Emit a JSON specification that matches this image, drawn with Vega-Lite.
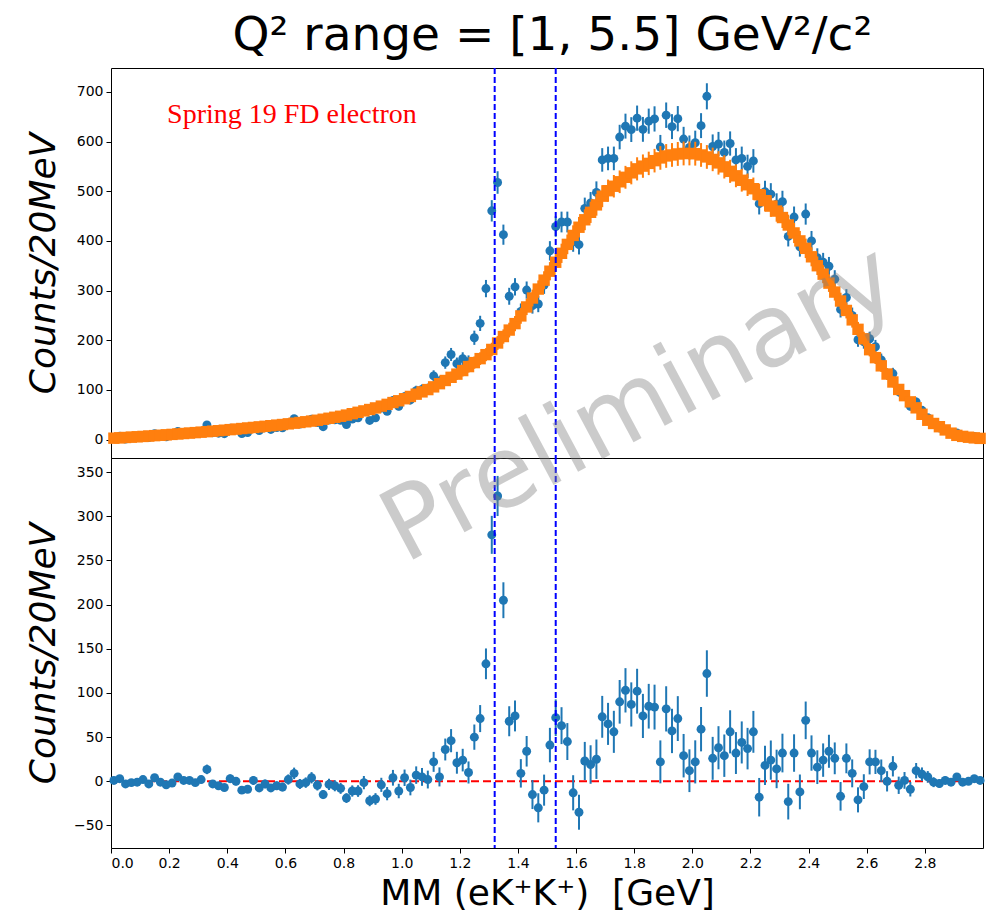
{
"$schema": "https://vega.github.io/schema/vega-lite/v6.json",
"background": "white",
"padding": {"left": 24, "top": 11, "right": 9, "bottom": 2},
"title": {"text": "Q² range = [1, 5.5] GeV²/c²", "fontSize": 47, "font": "DejaVu Sans", "fontWeight": "normal", "color": "black", "anchor": "middle", "offset": 7, "dx": 47},
"spacing": 0,
"bounds": "flush",
"data": {"values": [
{"x":0.01,"f":2.9,"fe":1.7,"d":3.9,"de":2.0,"r":1},
{"x":0.03,"f":3.6,"fe":1.9,"d":6.6,"de":2.6,"r":3},
{"x":0.05,"f":4.3,"fe":2.1,"d":1.3,"de":1.1,"r":-3},
{"x":0.07,"f":5.0,"fe":2.2,"d":3.5,"de":1.9,"r":-1.5},
{"x":0.09,"f":5.7,"fe":2.4,"d":4.7,"de":2.2,"r":-1},
{"x":0.11,"f":6.4,"fe":2.5,"d":8.4,"de":2.9,"r":2},
{"x":0.13,"f":7.2,"fe":2.7,"d":4.2,"de":2.0,"r":-3},
{"x":0.15,"f":8.0,"fe":2.8,"d":12,"de":3.5,"r":4},
{"x":0.17,"f":8.8,"fe":3.0,"d":7.8,"de":2.8,"r":-1},
{"x":0.19,"f":9.6,"fe":3.1,"d":5.6,"de":2.4,"r":-4},
{"x":0.21,"f":10.5,"fe":3.2,"d":8.5,"de":2.9,"r":-2},
{"x":0.23,"f":11.4,"fe":3.4,"d":16.4,"de":4.0,"r":5},
{"x":0.25,"f":12.3,"fe":3.5,"d":13.3,"de":3.6,"r":1},
{"x":0.27,"f":13.2,"fe":3.6,"d":14.2,"de":3.8,"r":1},
{"x":0.29,"f":14.1,"fe":3.8,"d":12.6,"de":3.5,"r":-1.5},
{"x":0.31,"f":15,"fe":3.9,"d":17,"de":4.1,"r":2},
{"x":0.33,"f":16,"fe":4.0,"d":29.5,"de":5.4,"r":13.5},
{"x":0.35,"f":17,"fe":4.1,"d":14,"de":3.7,"r":-3},
{"x":0.37,"f":18,"fe":4.2,"d":13,"de":3.6,"r":-5},
{"x":0.39,"f":19,"fe":4.4,"d":12,"de":3.5,"r":-7},
{"x":0.41,"f":20.1,"fe":4.5,"d":23.1,"de":4.8,"r":3},
{"x":0.43,"f":21.2,"fe":4.6,"d":21.2,"de":4.6,"r":0},
{"x":0.45,"f":22.3,"fe":4.7,"d":12.3,"de":3.5,"r":-10},
{"x":0.47,"f":23.4,"fe":4.8,"d":14.4,"de":3.8,"r":-9},
{"x":0.49,"f":24.5,"fe":4.9,"d":25.5,"de":5.0,"r":1},
{"x":0.51,"f":25.6,"fe":5.1,"d":18.1,"de":4.3,"r":-7.5},
{"x":0.53,"f":26.8,"fe":5.2,"d":23.8,"de":4.9,"r":-3},
{"x":0.55,"f":28,"fe":5.3,"d":20.5,"de":4.5,"r":-7.5},
{"x":0.57,"f":29.2,"fe":5.4,"d":24.2,"de":4.9,"r":-5},
{"x":0.59,"f":30.4,"fe":5.5,"d":23.9,"de":4.9,"r":-6.5},
{"x":0.61,"f":31.7,"fe":5.6,"d":33.7,"de":5.8,"r":2},
{"x":0.63,"f":33.1,"fe":5.8,"d":42.1,"de":6.5,"r":9},
{"x":0.65,"f":34.5,"fe":5.9,"d":31.5,"de":5.6,"r":-3},
{"x":0.67,"f":35.9,"fe":6.0,"d":34.4,"de":5.9,"r":-1.5},
{"x":0.69,"f":37.3,"fe":6.1,"d":41.3,"de":6.4,"r":4},
{"x":0.71,"f":39,"fe":6.2,"d":34.5,"de":5.9,"r":-4.5},
{"x":0.73,"f":41,"fe":6.4,"d":26,"de":5.1,"r":-15},
{"x":0.75,"f":43,"fe":6.6,"d":39.5,"de":6.3,"r":-3.5},
{"x":0.77,"f":45,"fe":6.7,"d":40,"de":6.3,"r":-5},
{"x":0.79,"f":47,"fe":6.9,"d":39,"de":6.2,"r":-8},
{"x":0.81,"f":49.4,"fe":7.0,"d":30.4,"de":5.5,"r":-19},
{"x":0.83,"f":52.2,"fe":7.2,"d":41.2,"de":6.4,"r":-11},
{"x":0.85,"f":55,"fe":7.4,"d":44,"de":6.6,"r":-11},
{"x":0.87,"f":57.8,"fe":7.6,"d":56.3,"de":7.5,"r":-1.5},
{"x":0.89,"f":60.6,"fe":7.8,"d":38.6,"de":6.2,"r":-22},
{"x":0.91,"f":63.8,"fe":8.0,"d":43.8,"de":6.6,"r":-20},
{"x":0.93,"f":67.4,"fe":8.2,"d":63.4,"de":8.0,"r":-4},
{"x":0.95,"f":71,"fe":8.4,"d":57,"de":7.5,"r":-14},
{"x":0.97,"f":74.6,"fe":8.6,"d":78.6,"de":8.9,"r":4},
{"x":0.99,"f":78.2,"fe":8.8,"d":67.2,"de":8.2,"r":-11},
{"x":1.01,"f":82.3,"fe":9.1,"d":86.3,"de":9.3,"r":4},
{"x":1.03,"f":86.9,"fe":9.3,"d":79.9,"de":8.9,"r":-7},
{"x":1.05,"f":91.5,"fe":9.6,"d":98.5,"de":9.9,"r":7},
{"x":1.07,"f":96.1,"fe":9.8,"d":101.1,"de":10.1,"r":5},
{"x":1.09,"f":100.7,"fe":10.0,"d":102.7,"de":10.1,"r":2},
{"x":1.11,"f":106.2,"fe":10.3,"d":128.2,"de":11.3,"r":22},
{"x":1.13,"f":112.6,"fe":10.6,"d":117.6,"de":10.8,"r":5},
{"x":1.15,"f":119,"fe":10.9,"d":155,"de":12.4,"r":36},
{"x":1.17,"f":125.4,"fe":11.2,"d":171.4,"de":13.1,"r":46},
{"x":1.19,"f":131.8,"fe":11.5,"d":152.8,"de":12.4,"r":21},
{"x":1.21,"f":139,"fe":11.8,"d":163,"de":12.8,"r":24},
{"x":1.23,"f":147,"fe":12.1,"d":157,"de":12.5,"r":10},
{"x":1.25,"f":155,"fe":12.4,"d":205,"de":14.3,"r":50},
{"x":1.27,"f":163,"fe":12.8,"d":234,"de":15.3,"r":71},
{"x":1.29,"f":171,"fe":13.1,"d":304,"de":17.4,"r":133},
{"x":1.31,"f":181.5,"fe":13.5,"d":460.5,"de":21.5,"r":279},
{"x":1.33,"f":194.5,"fe":13.9,"d":517.5,"de":22.7,"r":323},
{"x":1.35,"f":207.5,"fe":14.4,"d":412.5,"de":20.3,"r":205},
{"x":1.37,"f":220.5,"fe":14.8,"d":288.5,"de":17.0,"r":68},
{"x":1.39,"f":233.5,"fe":15.3,"d":307.5,"de":17.5,"r":74},
{"x":1.41,"f":249,"fe":15.8,"d":258,"de":16.1,"r":9},
{"x":1.43,"f":267,"fe":16.3,"d":301,"de":17.3,"r":34},
{"x":1.45,"f":285,"fe":16.9,"d":270,"de":16.4,"r":-15},
{"x":1.47,"f":303,"fe":17.4,"d":273,"de":16.5,"r":-30},
{"x":1.49,"f":321,"fe":17.9,"d":311,"de":17.6,"r":-10},
{"x":1.51,"f":339,"fe":18.4,"d":380,"de":19.5,"r":41},
{"x":1.53,"f":357,"fe":18.9,"d":429,"de":20.7,"r":72},
{"x":1.55,"f":375,"fe":19.4,"d":438,"de":20.9,"r":63},
{"x":1.57,"f":393,"fe":19.8,"d":438,"de":20.9,"r":45},
{"x":1.59,"f":411,"fe":20.3,"d":398,"de":19.9,"r":-13},
{"x":1.61,"f":427.5,"fe":20.7,"d":392.5,"de":19.8,"r":-35},
{"x":1.63,"f":442.5,"fe":21.0,"d":465.5,"de":21.6,"r":23},
{"x":1.65,"f":457.5,"fe":21.4,"d":476.5,"de":21.8,"r":19},
{"x":1.67,"f":472.5,"fe":21.7,"d":497.5,"de":22.3,"r":25},
{"x":1.69,"f":490,"fe":22.1,"d":563,"de":23.7,"r":73},
{"x":1.71,"f":501,"fe":22.4,"d":566,"de":23.8,"r":65},
{"x":1.73,"f":510,"fe":22.6,"d":566,"de":23.8,"r":56},
{"x":1.75,"f":519,"fe":22.8,"d":609,"de":24.7,"r":90},
{"x":1.77,"f":528,"fe":23.0,"d":631,"de":25.1,"r":103},
{"x":1.79,"f":537,"fe":23.2,"d":624,"de":25.0,"r":87},
{"x":1.81,"f":545,"fe":23.3,"d":647,"de":25.4,"r":102},
{"x":1.83,"f":550.5,"fe":23.5,"d":624.5,"de":25.0,"r":74},
{"x":1.85,"f":556,"fe":23.6,"d":641,"de":25.3,"r":85},
{"x":1.87,"f":561.5,"fe":23.7,"d":645.5,"de":25.4,"r":84},
{"x":1.89,"f":567,"fe":23.8,"d":589,"de":24.3,"r":22},
{"x":1.91,"f":571,"fe":23.9,"d":653,"de":25.6,"r":82},
{"x":1.93,"f":573,"fe":23.9,"d":630,"de":25.1,"r":57},
{"x":1.95,"f":575,"fe":24.0,"d":646,"de":25.4,"r":71},
{"x":1.97,"f":576,"fe":24.0,"d":605,"de":24.6,"r":29},
{"x":1.99,"f":576,"fe":24.0,"d":588,"de":24.2,"r":12},
{"x":2.01,"f":575.5,"fe":24.0,"d":597.5,"de":24.4,"r":22},
{"x":2.03,"f":573,"fe":23.9,"d":632,"de":25.1,"r":59},
{"x":2.05,"f":569,"fe":23.9,"d":691,"de":26.3,"r":122},
{"x":2.07,"f":564,"fe":23.7,"d":590,"de":24.3,"r":26},
{"x":2.09,"f":557,"fe":23.6,"d":595,"de":24.4,"r":38},
{"x":2.11,"f":549,"fe":23.4,"d":578,"de":24.0,"r":29},
{"x":2.13,"f":540,"fe":23.2,"d":596,"de":24.4,"r":56},
{"x":2.15,"f":531,"fe":23.0,"d":563,"de":23.7,"r":32},
{"x":2.17,"f":522,"fe":22.8,"d":566,"de":23.8,"r":44},
{"x":2.19,"f":513,"fe":22.6,"d":550,"de":23.5,"r":37},
{"x":2.21,"f":505,"fe":22.5,"d":561,"de":23.7,"r":56},
{"x":2.23,"f":493,"fe":22.2,"d":475,"de":21.8,"r":-18},
{"x":2.25,"f":481,"fe":21.9,"d":499,"de":22.3,"r":18},
{"x":2.27,"f":470,"fe":21.7,"d":494,"de":22.2,"r":24},
{"x":2.29,"f":460,"fe":21.4,"d":474,"de":21.8,"r":14},
{"x":2.31,"f":447,"fe":21.1,"d":479,"de":21.9,"r":32},
{"x":2.33,"f":432,"fe":20.8,"d":409,"de":20.2,"r":-23},
{"x":2.35,"f":416,"fe":20.4,"d":448,"de":21.2,"r":32},
{"x":2.37,"f":400,"fe":20.0,"d":388,"de":19.7,"r":-12},
{"x":2.39,"f":385,"fe":19.6,"d":454,"de":21.3,"r":69},
{"x":2.41,"f":368,"fe":19.2,"d":400,"de":20.0,"r":32},
{"x":2.43,"f":350,"fe":18.7,"d":366,"de":19.1,"r":16},
{"x":2.45,"f":333,"fe":18.2,"d":357,"de":18.9,"r":24},
{"x":2.47,"f":315,"fe":17.7,"d":349,"de":18.7,"r":34},
{"x":2.49,"f":297,"fe":17.2,"d":323,"de":18.0,"r":26},
{"x":2.51,"f":279,"fe":16.7,"d":262,"de":16.2,"r":-17},
{"x":2.53,"f":260,"fe":16.1,"d":286,"de":16.9,"r":26},
{"x":2.55,"f":241,"fe":15.5,"d":250,"de":15.8,"r":9},
{"x":2.57,"f":222,"fe":14.9,"d":201,"de":14.2,"r":-21},
{"x":2.59,"f":203,"fe":14.2,"d":197,"de":14.0,"r":-6},
{"x":2.61,"f":181,"fe":13.5,"d":203,"de":14.2,"r":22},
{"x":2.63,"f":165,"fe":12.8,"d":187,"de":13.7,"r":22},
{"x":2.65,"f":148.5,"fe":12.2,"d":160.5,"de":12.7,"r":12},
{"x":2.67,"f":132,"fe":11.5,"d":132,"de":11.5,"r":0},
{"x":2.69,"f":116,"fe":10.8,"d":133,"de":11.5,"r":17},
{"x":2.71,"f":101,"fe":10.0,"d":96.5,"de":9.8,"r":-4.5},
{"x":2.73,"f":88.5,"fe":9.4,"d":89.5,"de":9.5,"r":1},
{"x":2.75,"f":76,"fe":8.7,"d":67,"de":8.2,"r":-9},
{"x":2.77,"f":64,"fe":8.0,"d":76,"de":8.7,"r":12},
{"x":2.79,"f":51,"fe":7.1,"d":59,"de":7.7,"r":8},
{"x":2.81,"f":39,"fe":6.2,"d":44,"de":6.6,"r":5},
{"x":2.83,"f":32.5,"fe":5.7,"d":31.5,"de":5.6,"r":-1},
{"x":2.85,"f":26,"fe":5.1,"d":23.5,"de":4.8,"r":-2.5},
{"x":2.87,"f":19.5,"fe":4.4,"d":20.5,"de":4.5,"r":1},
{"x":2.89,"f":13,"fe":3.6,"d":12,"de":3.5,"r":-1},
{"x":2.91,"f":8.6,"fe":2.9,"d":13.6,"de":3.7,"r":5},
{"x":2.93,"f":6.5,"fe":2.5,"d":5.5,"de":2.3,"r":-1},
{"x":2.95,"f":4.8,"fe":2.2,"d":4.8,"de":2.2,"r":0},
{"x":2.97,"f":3.5,"fe":1.9,"d":6.5,"de":2.5,"r":3},
{"x":2.99,"f":2.5,"fe":1.6,"d":3.5,"de":1.9,"r":1}
]},
"vconcat": [
{
"width": 872, "height": 390,
"layer": [
{"mark": {"type": "errorbar", "color": "#1f77b4", "thickness": 2},
 "encoding": {
  "x": {"field": "x", "type": "quantitative", "scale": {"domain": [0, 3], "nice": false, "zero": false}, "axis": null},
  "y": {"field": "d", "type": "quantitative", "scale": {"domain": [-37, 748], "nice": false, "zero": false}, "axis": {"values": [0,100,200,300,400,500,600,700], "title": "Counts/20MeV"}, "title": "Counts/20MeV"},
  "yError": {"field": "de"}}},
{"mark": {"type": "point", "filled": true, "shape": "circle", "size": 80, "color": "#1f77b4", "opacity": 1},
 "encoding": {
  "x": {"field": "x", "type": "quantitative", "scale": {"domain": [0, 3], "nice": false, "zero": false}, "axis": null},
  "y": {"field": "d", "type": "quantitative", "title": "Counts/20MeV"}}},
{"mark": {"type": "errorbar", "color": "#ff7f0e", "thickness": 2},
 "encoding": {
  "x": {"field": "x", "type": "quantitative", "scale": {"domain": [0, 3], "nice": false, "zero": false}, "axis": null},
  "y": {"field": "f", "type": "quantitative", "title": "Counts/20MeV"},
  "yError": {"field": "fe"}}},
{"mark": {"type": "point", "filled": true, "shape": "square", "size": 130, "color": "#ff7f0e", "opacity": 1},
 "encoding": {
  "x": {"field": "x", "type": "quantitative", "scale": {"domain": [0, 3], "nice": false, "zero": false}, "axis": null},
  "y": {"field": "f", "type": "quantitative", "title": "Counts/20MeV"}}},
{"data": {"values": [{"label": "Spring 19 FD electron"}]},
 "mark": {"type": "text", "font": "Liberation Serif", "fontSize": 28, "color": "red", "align": "left", "baseline": "alphabetic"},
 "encoding": {
  "x": {"datum": 0.193, "type": "quantitative"},
  "y": {"datum": 638, "type": "quantitative"},
  "text": {"field": "label"}}},
{"data": {"values": [{"cut": 1.32}, {"cut": 1.53}]},
 "mark": {"type": "rule", "color": "blue", "strokeDash": [6, 3], "strokeWidth": 2},
 "encoding": {"x": {"field": "cut", "type": "quantitative"}}}
]
},
{
"width": 872, "height": 390,
"layer": [
{"data": {"values": [{"zero": 0}]},
 "mark": {"type": "rule", "color": "red", "strokeDash": [8, 4], "strokeWidth": 2},
 "encoding": {"y": {"field": "zero", "type": "quantitative", "title": "Counts/20MeV"}}},
{"mark": {"type": "errorbar", "color": "#1f77b4", "thickness": 2},
 "encoding": {
  "x": {"field": "x", "type": "quantitative", "scale": {"domain": [0, 3], "nice": false, "zero": false}, "axis": {"values": [0,0.2,0.4,0.6,0.8,1,1.2,1.4,1.6,1.8,2,2.2,2.4,2.6,2.8], "format": ".1f", "title": "MM (eK⁺K⁺) \u00a0[GeV]"}, "title": "MM (eK⁺K⁺) \u00a0[GeV]"},
  "y": {"field": "r", "type": "quantitative", "scale": {"domain": [-75.5, 366], "nice": false, "zero": false}, "axis": {"values": [-50,0,50,100,150,200,250,300,350], "title": "Counts/20MeV"}, "title": "Counts/20MeV"},
  "yError": {"field": "de"}}},
{"mark": {"type": "point", "filled": true, "shape": "circle", "size": 80, "color": "#1f77b4", "opacity": 1},
 "encoding": {
  "x": {"field": "x", "type": "quantitative", "title": "MM (eK⁺K⁺) \u00a0[GeV]"},
  "y": {"field": "r", "type": "quantitative", "title": "Counts/20MeV"}}},
{"data": {"values": [{"cut": 1.32}, {"cut": 1.53}]},
 "mark": {"type": "rule", "color": "blue", "strokeDash": [6, 3], "strokeWidth": 2},
 "encoding": {"x": {"field": "cut", "type": "quantitative", "title": "MM (eK⁺K⁺) \u00a0[GeV]"}}},
{"data": {"values": [{"label": "Preliminary"}]},
 "mark": {"type": "text", "font": "DejaVu Sans", "fontSize": 100, "angle": -28, "color": "gray", "opacity": 0.4, "align": "center", "baseline": "middle"},
 "encoding": {
  "x": {"datum": 1.82, "type": "quantitative"},
  "y": {"datum": 426, "type": "quantitative"},
  "text": {"field": "label"}}}
]
}
],
"config": {
  "view": {"stroke": "black", "strokeWidth": 1},
  "axis": {"domain": false, "grid": false, "tickColor": "black", "tickSize": 5, "tickWidth": 1, "labelColor": "black", "labelFont": "DejaVu Sans", "labelFontSize": 14, "titleFont": "DejaVu Sans", "titleFontWeight": "normal", "titleColor": "black", "labelPadding": 3},
  "axisY": {"titleFontSize": 36, "titleFontStyle": "italic", "titlePadding": 9, "minExtent": 40, "maxExtent": 40},
  "axisX": {"titleFontSize": 36, "titlePadding": 6}
}
}
